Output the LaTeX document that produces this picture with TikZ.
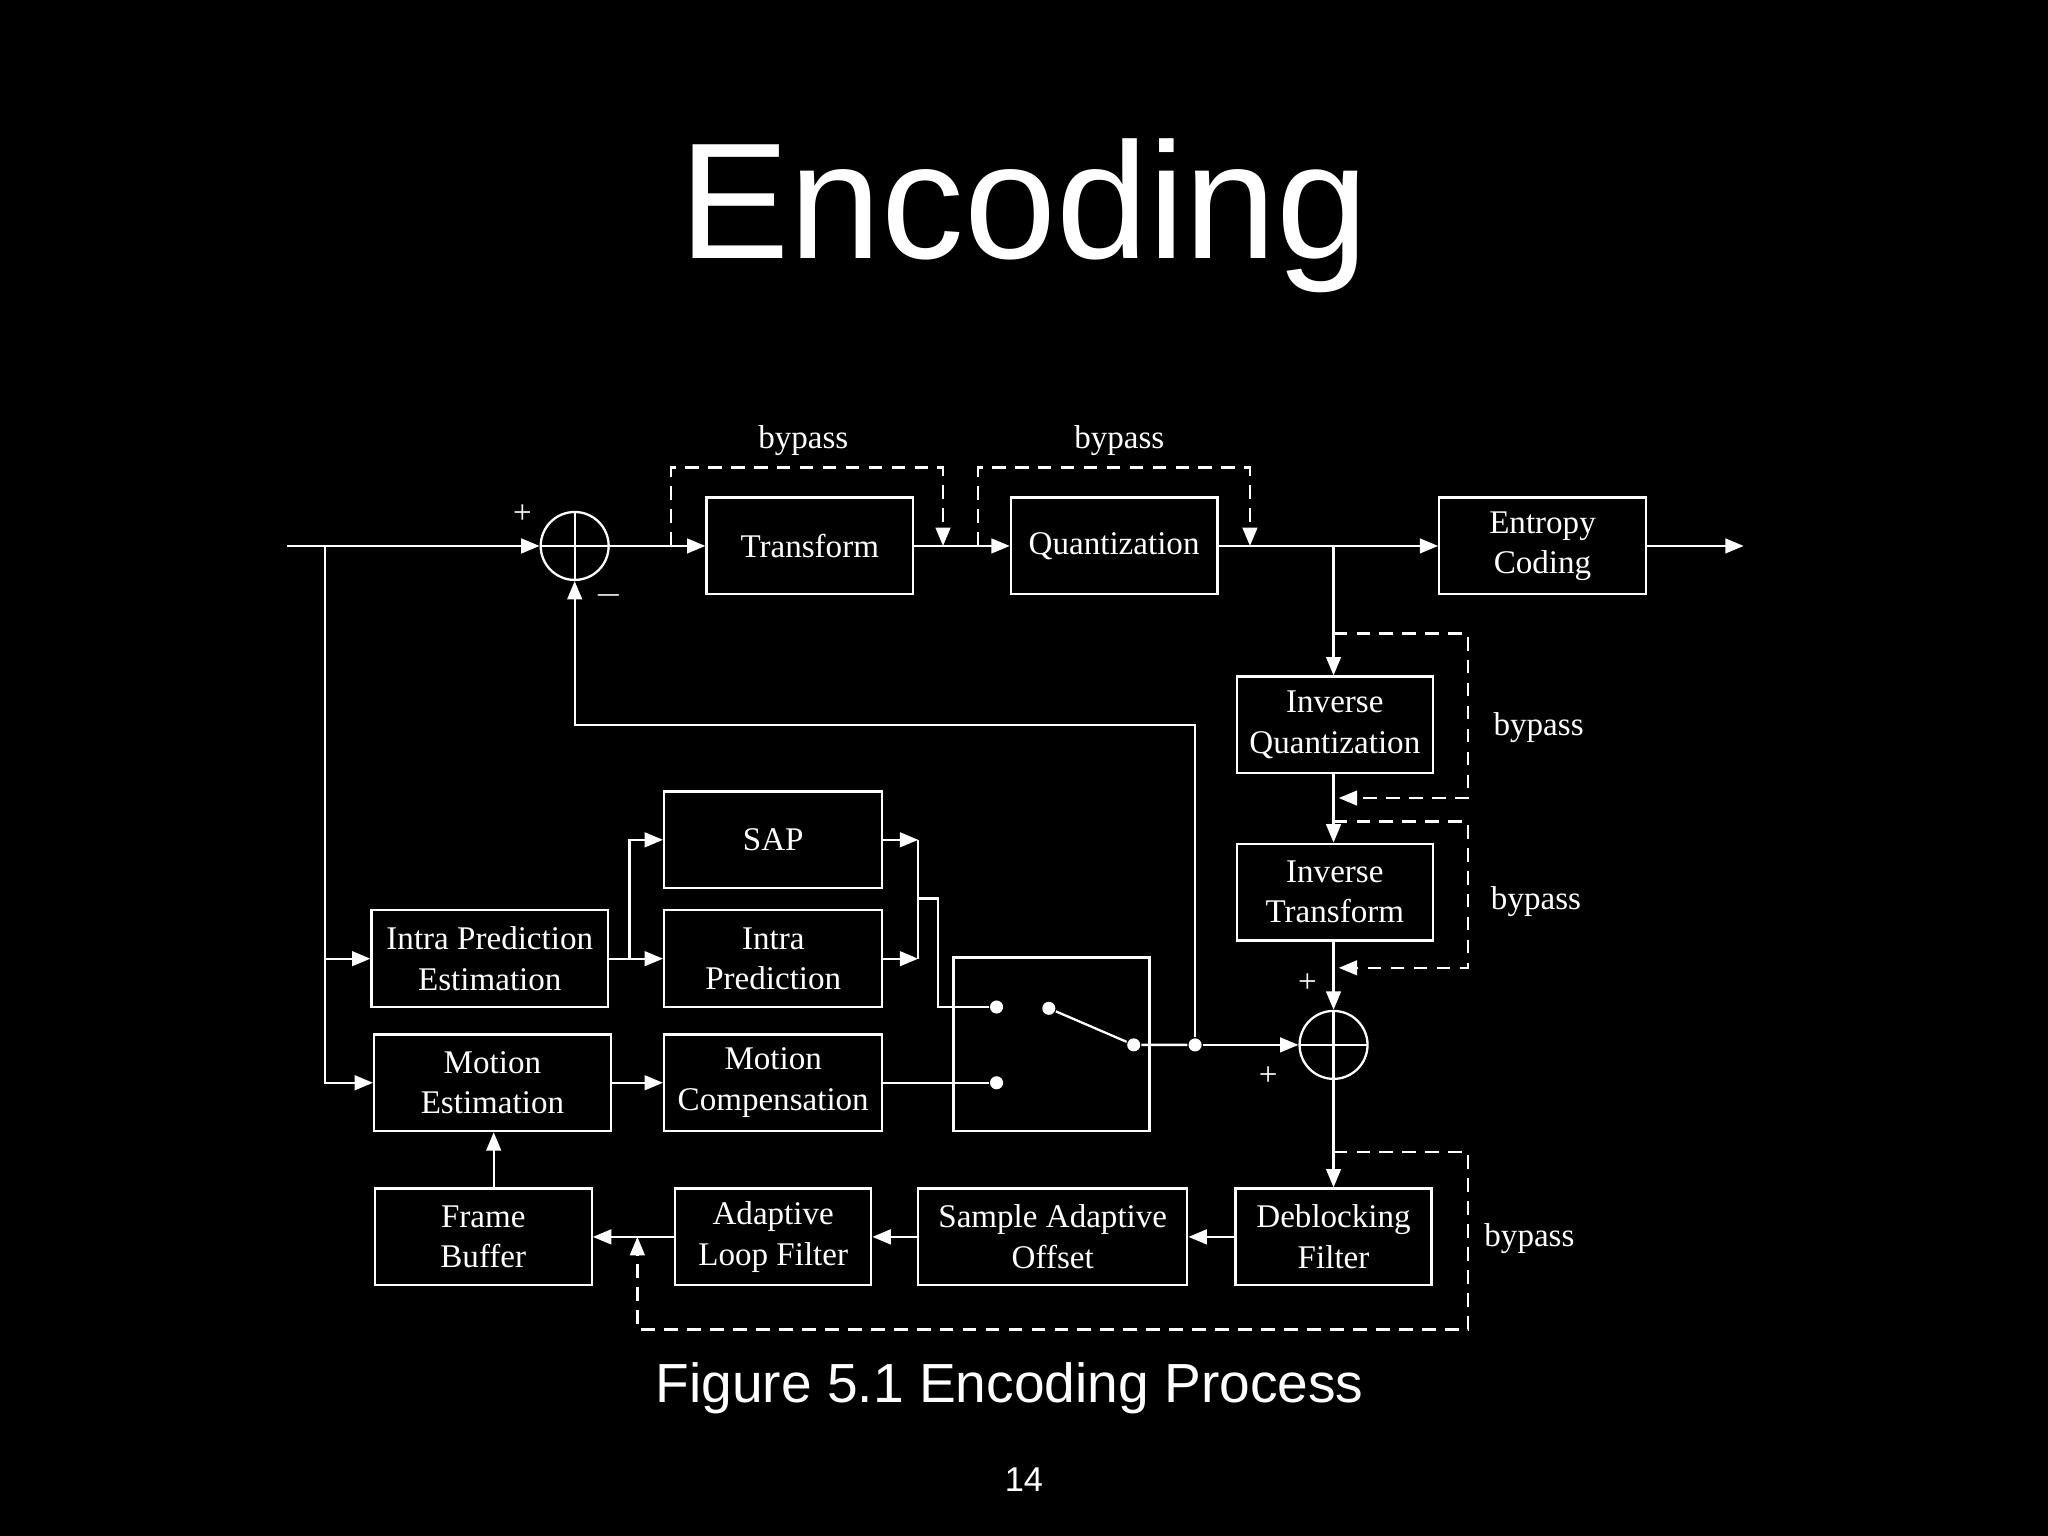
\documentclass[tikz,border=0pt]{standalone}
\usepackage{fontspec}
\setmainfont{Liberation Serif}
\newfontfamily\sansfont{Liberation Sans}
\usetikzlibrary{arrows.meta}
\begin{document}
\begin{tikzpicture}[x=0.01cm, y=-0.01cm, white, line width=0.5pt,
  box/.style={draw, align=center, minimum height=0.74cm, inner sep=1pt, font=\fontsize{7.2}{8.8}\selectfont},
  sum/.style={draw, circle, minimum size=0.52cm, inner sep=0pt, path picture={
    \draw (path picture bounding box.north) -- (path picture bounding box.south)
          (path picture bounding box.west) -- (path picture bounding box.east);}},
  dot/.style={circle, fill=white, minimum size=0.1cm, inner sep=0pt},
  lbl/.style={font=\fontsize{7.2}{9}\selectfont},
  arr/.style={-{Triangle[length=4pt,width=3.2pt]}},
  byp/.style={dashed, dash pattern=on 3pt off 2pt}]

% background
\fill[black] (0,0) rectangle (1568,1176);

% Title
\node[font=\sansfont\fontsize{36}{40}\selectfont] at (784,165) {Encoding};
\node[font=\sansfont\fontsize{12}{14}\selectfont] at (773,1063) {Figure 5.1 Encoding Process};
\node[font=\sansfont\fontsize{7.5}{9}\selectfont] at (784,1133) {14};

% Top row
\node[sum] (sum1) at (440,418) {};
\node[box, minimum width=1.58cm] (tr) at (620,418) {Transform};
\node[box, minimum width=1.58cm] (qu) at (853,418) {Quantization};
\node[box, minimum width=1.58cm] (ec) at (1181,418) {Entropy\\Coding};
\coordinate (in) at (220,418);
\coordinate (out) at (1335,418);

% Reconstruction column
\node[box, minimum width=1.50cm] (iq) at (1022,555) {Inverse\\Quantization};
\node[box, minimum width=1.50cm] (it) at (1022,683) {Inverse\\Transform};
\node[sum] (sum2) at (1021,800) {};

% Prediction
\node[box, minimum width=1.67cm] (sap) at (592,643) {SAP};
\node[box, minimum width=1.67cm] (ip) at (592,734) {Intra\\Prediction};
\node[box, minimum width=1.81cm] (ipe) at (375,734) {Intra Prediction\\Estimation};
\node[box, minimum width=1.81cm] (me) at (377,829) {Motion\\Estimation};
\node[box, minimum width=1.67cm] (mc) at (592,829) {Motion\\Compensation};
\draw (730,733) rectangle (880,866);
\node[dot] (s1) at (763,771) {};
\node[dot] (s2) at (763,829) {};
\node[dot] (s3) at (803,772) {};
\node[dot] (s4) at (868,800) {};
\node[dot] (s5) at (915,800) {};

% Loop filters
\node[box, minimum width=1.66cm] (fb) at (370,947) {Frame\\Buffer};
\node[box, minimum width=1.50cm] (alf) at (592,947) {Adaptive\\Loop Filter};
\node[box, minimum width=2.06cm] (sao) at (806,947) {Sample Adaptive\\Offset};
\node[box, minimum width=1.50cm] (db) at (1021,947) {Deblocking\\Filter};

% Main path
\draw[arr] (in) -- (sum1);
\draw[arr] (sum1) -- (tr);
\draw[arr] (tr) -- (qu);
\draw[arr] (qu) -- (ec);
\draw[arr] (ec) -- (out);
\draw[arr] (249,418) |- (ipe.west);
\draw[arr] (249,418) |- (me.west);
\draw[arr] (1021,418) -- (iq.north -| 1021,0);
\draw[arr] (iq.south -| 1021,0) -- (it.north -| 1021,0);
\draw[arr] (it.south -| 1021,0) -- (sum2);
\draw[arr] (s5) |- (440,555) -- (sum1.south);

% Prediction paths
\draw[arr] (ipe) -- (ip);
\draw[arr] (482,734) |- (sap.west);
\draw[arr] (sap.east) -- (703,643);
\draw[arr] (ip.east) -- (703,734);
\draw (703,643) -- (703,734);
\draw (703,688) -| (718,771) -- (s1);
\draw[arr] (me) -- (mc);
\draw (mc) -- (s2);
\draw (s3) -- (s4) -- (s5);
\draw[arr] (s5) -- (sum2);

% Loop filters
\draw[arr] (sum2) -- (db);
\draw[arr] (db) -- (sao);
\draw[arr] (sao) -- (alf);
\draw[arr] (alf) -- (fb);
\draw[arr] (fb.north -| 378,0) -- (me.south -| 378,0);

% Bypass lines
\draw[byp, arr] (514,418) |- (722,358) -- (722,418);
\draw[byp, arr] (749,418) |- (957,358) -- (957,418);
\draw[byp, arr] (1021,485) -| (1124,611) -- (1025,611);
\draw[byp, arr] (1021,629) -| (1124,741) -- (1025,741);
\draw[byp, arr] (1021,882) -| (1124,1018) -| (488,947);

% Labels
\node[lbl] at (615,337) {bypass};
\node[lbl] at (857,337) {bypass};
\node[lbl] at (1178,557) {bypass};
\node[lbl] at (1176,690) {bypass};
\node[lbl] at (1171,948) {bypass};
\node[lbl] at (400,394) {+};
\node[lbl] at (466,456) {$-$};
\node[lbl] at (1001,753) {+};
\node[lbl] at (971,824) {+};
\end{tikzpicture}
\end{document}
